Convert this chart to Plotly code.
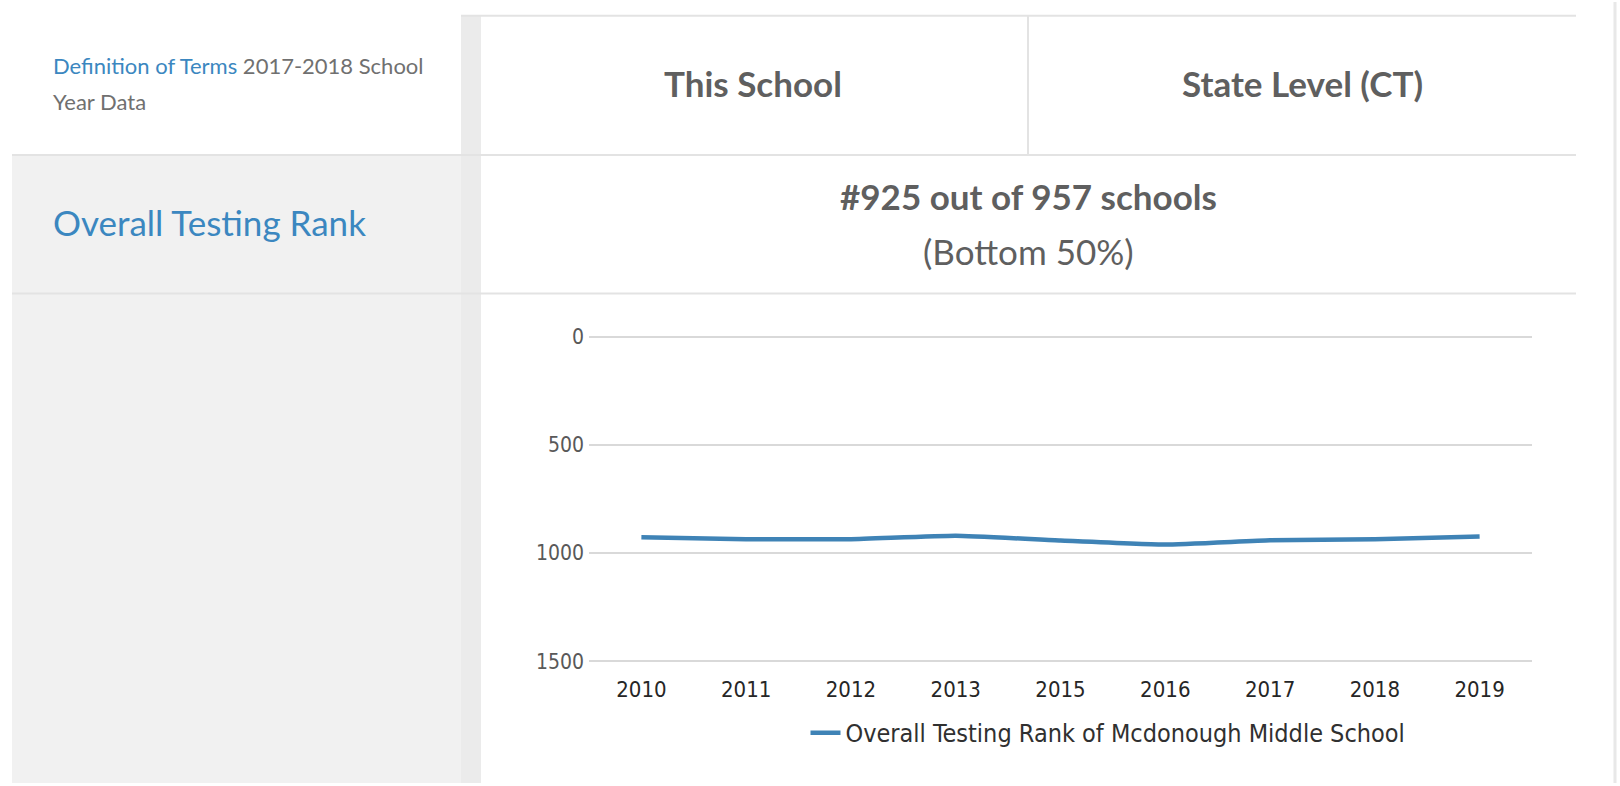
import plotly.graph_objects as go

W, H = 1620, 786

# chart data
years = ['2010', '2011', '2012', '2013', '2015', '2016', '2017', '2018', '2019']
ranks = [927, 936, 936, 920, 942, 961, 941, 936, 924]
rank_ticks = [0, 500, 1000, 1500]

# table text
header_cols = ['This School', 'State Level (CT)']
row_label = 'Overall Testing Rank'
rank_text = '#925 out of 957 schools'
rank_note = '(Bottom 50%)'
series_name = 'Overall Testing Rank of Mcdonough Middle School'

BLUE = '#3b87c0'
GREY_TXT = '#5f5f5f'
LINE_GREY = '#e3e3e3'
PAGE_FONT = 'Lato'
CHART_FONT = 'DejaVu Sans Condensed'


def px(x):
    return x / W


def py(y):
    return 1 - y / H


fig = go.Figure()

fig.add_trace(go.Scatter(
    x=years, y=ranks, mode='lines', name=series_name,
    line=dict(color='#3f83b6', width=4.5, shape='spline', smoothing=0.4),
    showlegend=True))

# background boxes and table rules
shapes = [
    dict(type='rect', x0=px(12), x1=px(461), y0=py(151), y1=py(H + 5), fillcolor='#f1f1f1', line_width=0),
    dict(type='rect', x0=px(461), x1=px(481), y0=py(9), y1=py(H + 5), fillcolor='#ebebeb', line_width=0),
    dict(type='line', x0=px(461), x1=px(1576), y0=py(9), y1=py(9), line=dict(color=LINE_GREY, width=2)),
    dict(type='line', x0=px(12), x1=px(1576), y0=py(151), y1=py(151), line=dict(color=LINE_GREY, width=2)),
    dict(type='line', x0=px(12), x1=px(1576), y0=py(292), y1=py(292), line=dict(color=LINE_GREY, width=2)),
    dict(type='line', x0=px(1028), x1=px(1028), y0=py(9), y1=py(151), line=dict(color=LINE_GREY, width=2)),
    dict(type='line', x0=px(1615), x1=px(1615), y0=py(-5), y1=py(H + 5), line=dict(color='#e8e8e8', width=3)),
]
for s in shapes:
    s['xref'] = 'paper'
    s['yref'] = 'paper'
    s['layer'] = 'below'

annotations = [
    dict(x=px(51), y=py(60), xanchor='left', yanchor='middle',
         text='<span style="color:%s">Definition of Terms</span> 2017-2018 School' % BLUE,
         font=dict(family=PAGE_FONT, size=22, color='#707070')),
    dict(x=px(51), y=py(96), xanchor='left', yanchor='middle', text='Year Data',
         font=dict(family=PAGE_FONT, size=22, color='#707070')),
    dict(x=px(753), y=py(77), xanchor='center', yanchor='middle', text='<b>%s</b>' % header_cols[0],
         font=dict(family=PAGE_FONT, size=35, color=GREY_TXT)),
    dict(x=px(1302), y=py(77), xanchor='center', yanchor='middle', text='<b>%s</b>' % header_cols[1],
         font=dict(family=PAGE_FONT, size=35, color=GREY_TXT)),
    dict(x=px(51), y=py(219), xanchor='left', yanchor='middle', text=row_label,
         font=dict(family=PAGE_FONT, size=35, color=BLUE)),
    dict(x=px(1028), y=py(193), xanchor='center', yanchor='middle', text='<b>%s</b>' % rank_text,
         font=dict(family=PAGE_FONT, size=35, color=GREY_TXT)),
    dict(x=px(1028), y=py(249), xanchor='center', yanchor='middle', text=rank_note,
         font=dict(family=PAGE_FONT, size=35, color=GREY_TXT)),
]
for a in annotations:
    a['xref'] = 'paper'
    a['yref'] = 'paper'
    a['showarrow'] = False

# y axis range padded so the 0 and 1500 gridlines are not clipped at the edges
pad = 20
unit = (667 - 336) / 1500

fig.update_layout(
    width=W, height=H,
    margin=dict(l=0, r=0, t=0, b=0),
    paper_bgcolor='white', plot_bgcolor='rgba(0,0,0,0)',
    shapes=shapes, annotations=annotations,
    legend=dict(orientation='h', x=px(1108), xanchor='center', y=py(740), yanchor='middle',
                font=dict(family=CHART_FONT, size=25, color='#303030'), bgcolor='rgba(0,0,0,0)'),
)

fig.update_xaxes(
    domain=[px(589), px(1532)], type='category', range=[-0.5, 8.5],
    showgrid=False, zeroline=False, showline=False, ticks='',
    tickfont=dict(family=CHART_FONT, size=22, color='#262626'), ticklabelstandoff=8,
)
fig.update_yaxes(
    domain=[py(667 + pad * unit), py(336 - pad * unit)], range=[1500 + pad, -pad], tickvals=rank_ticks,
    showgrid=True, gridcolor='#d9d9d9', gridwidth=2, zeroline=False, showline=False,
    ticks='', ticklabelstandoff=4,
    tickfont=dict(family=CHART_FONT, size=21, color='#595959'),
)

fig.write_html("out.html", config={'displayModeBar': False},
               post_script="document.body.style.margin='0';")
